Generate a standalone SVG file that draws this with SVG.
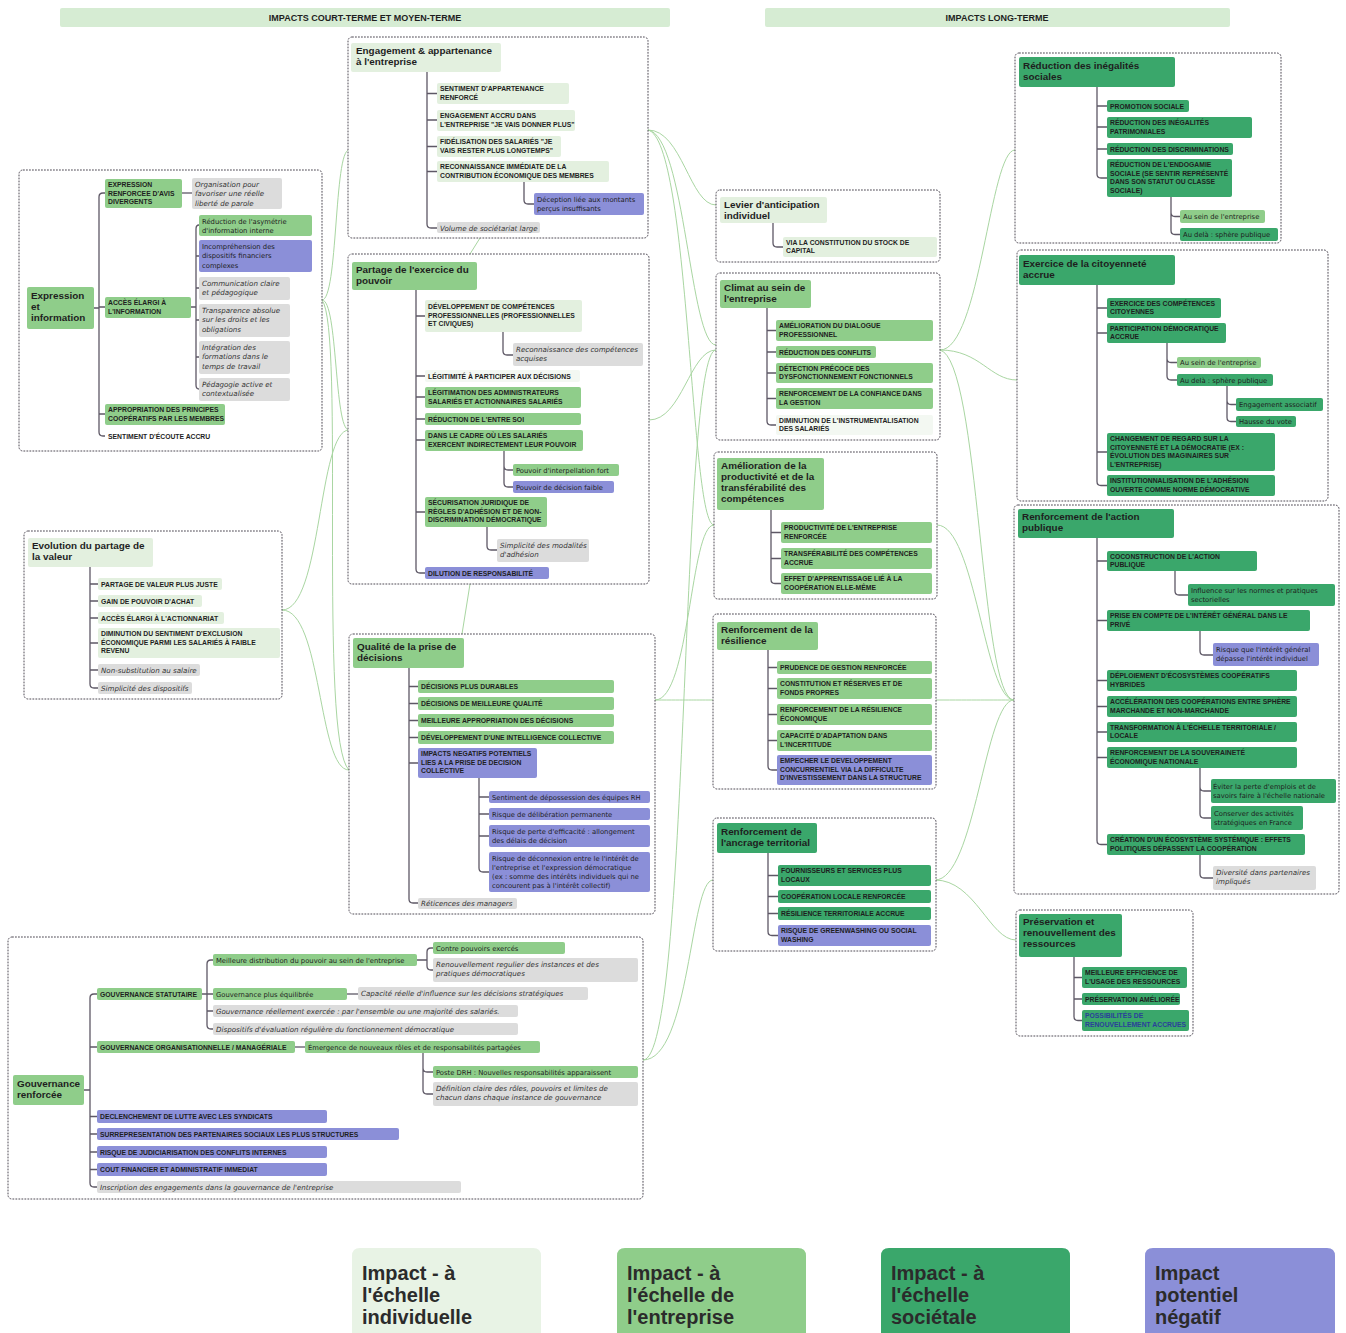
<svg xmlns="http://www.w3.org/2000/svg" width="1346" height="1333" viewBox="0 0 1346 1333">
<defs>
<style>
.bg{fill:#ffffff}
.box{fill:#ffffff;stroke:#4f4a55;stroke-width:1;stroke-dasharray:1.8 1.2}
.i{fill:#e3f0df}.e{fill:#8fcd8a}.s{fill:#3aa76b}.n{fill:#8b8fd8}.g{fill:#dcdcdc}.w{fill:#f3f8f2}
.br{fill:none;stroke:#5e5866;stroke-width:1.3}
.cn{fill:none;stroke:#a9d6a2;stroke-width:1}
text{fill:#1e1e1e}
.k{font:bold 6.8px "Liberation Sans",Arial,sans-serif}
.it{font:italic 7.1px "DejaVu Sans",Verdana,sans-serif;fill:#333}
.r{font:6.8px "DejaVu Sans",Verdana,sans-serif}
.h{font:bold 9.9px "Liberation Sans",Arial,sans-serif}
.hd{font:bold 9px "Liberation Sans",Arial,sans-serif}
.lg{font:bold 20px "Liberation Sans",Arial,sans-serif;fill:#2b2b2b}
</style>
</defs>
<rect class="bg" x="0" y="0" width="1346" height="1333"/>

<!-- headers -->
<g id="header-court">
<rect x="60" y="8" width="610" height="19" rx="2" fill="#d6ecd3"/>
<text class="hd" x="365" y="20.8" text-anchor="middle">IMPACTS COURT-TERME ET MOYEN-TERME</text>
</g>
<g id="header-long">
<rect x="765" y="8" width="465" height="19" rx="2" fill="#d6ecd3"/>
<text class="hd" x="997" y="20.8" text-anchor="middle">IMPACTS LONG-TERME</text>
</g>

<!-- connectors between groups -->
<g id="connectors">
<path class="cn" d="M322,300 C338,300 334,150 349,150"/>
<path class="cn" d="M322,300 C338,300 334,430 349,430"/>
<path class="cn" d="M282,610 C322,610 318,430 349,430"/>
<path class="cn" d="M282,610 C322,610 318,770 349,770"/>
<path class="cn" d="M322,300 C345,330 318,740 349,770"/>
<path class="cn" d="M480,238 L470,254"/>
<path class="cn" d="M470,584 L462,634"/>
<path class="cn" d="M648,130 C682,130 690,205 716,205"/>
<path class="cn" d="M648,130 C685,135 690,345 716,345"/>
<path class="cn" d="M648,130 C690,140 690,525 714,525"/>
<path class="cn" d="M649,420 C682,420 690,350 716,350"/>
<path class="cn" d="M655,700 C690,700 690,525 714,525"/>
<path class="cn" d="M655,700 C690,700 690,700 713,700"/>
<path class="cn" d="M643,1060 C690,1060 680,350 716,350"/>
<path class="cn" d="M643,1060 C690,1060 690,880 713,880"/>
<path class="cn" d="M940,350 C980,350 990,150 1015,150"/>
<path class="cn" d="M940,350 C980,350 990,380 1017,380"/>
<path class="cn" d="M940,350 C980,360 980,700 1014,700"/>
<path class="cn" d="M937,525 C975,525 985,700 1014,700"/>
<path class="cn" d="M936,700 C975,700 990,700 1014,700"/>
<path class="cn" d="M935,880 C975,880 985,700 1014,700"/>
<path class="cn" d="M935,880 C975,880 990,940 1016,940"/>
</g>

<!-- Group 1: Expression et information -->
<g id="expression-information">
<rect class="box" x="19" y="170" width="303" height="281" rx="4"/>
<rect class="e" x="27" y="287" width="67" height="42" rx="2"/>
<text class="h" x="31" y="299">Expression<tspan x="31" dy="11">et</tspan><tspan x="31" dy="11">information</tspan></text>
<path class="br" d="M94,308 H99 M105,193 H103 Q99,193 99,197 V432 Q99,436 103,436 H105 M99,307 H105 M99,414 H105"/>
<rect class="e" x="105" y="179" width="77" height="29" rx="2"/>
<text class="k" x="108" y="187">EXPRESSION<tspan x="108" dy="8.5">RENFORCEE D'AVIS</tspan><tspan x="108" dy="8.5">DIVERGENTS</tspan></text>
<path class="br" d="M182,193 H192"/>
<rect class="g" x="192" y="178" width="90" height="31" rx="2"/>
<text class="it" x="195" y="187">Organisation pour<tspan x="195" dy="9.3">favoriser une réelle</tspan><tspan x="195" dy="9.3">liberté de parole</tspan></text>
<rect class="e" x="105" y="297" width="86" height="21" rx="2"/>
<text class="k" x="108" y="305">ACCÈS ÉLARGI À<tspan x="108" dy="8.5">L'INFORMATION</tspan></text>
<path class="br" d="M191,307 H196 M199,225 Q196,225 196,229 V385 Q196,389 199,389 M196,256 H199 M196,288 H199 M196,320 H199 M196,357 H199"/>
<rect class="e" x="199" y="215" width="113" height="21" rx="2"/>
<text class="r" x="202" y="223.5">Réduction de l'asymétrie<tspan x="202" dy="9">d'information interne</tspan></text>
<rect class="n" x="199" y="240" width="113" height="32" rx="2"/>
<text class="r" x="202" y="249">Incompréhension des<tspan x="202" dy="9.3">dispositifs financiers</tspan><tspan x="202" dy="9.3">complexes</tspan></text>
<rect class="g" x="199" y="277" width="91" height="23" rx="2"/>
<text class="it" x="202" y="286">Communication claire<tspan x="202" dy="9.3">et pédagogique</tspan></text>
<rect class="g" x="199" y="304" width="91" height="33" rx="2"/>
<text class="it" x="202" y="313">Transparence absolue<tspan x="202" dy="9.3">sur les droits et les</tspan><tspan x="202" dy="9.3">obligations</tspan></text>
<rect class="g" x="199" y="341" width="91" height="33" rx="2"/>
<text class="it" x="202" y="350">Intégration des<tspan x="202" dy="9.3">formations dans le</tspan><tspan x="202" dy="9.3">temps de travail</tspan></text>
<rect class="g" x="199" y="378" width="91" height="23" rx="2"/>
<text class="it" x="202" y="387">Pédagogie active et<tspan x="202" dy="9.3">contextualisée</tspan></text>
<rect class="e" x="105" y="404" width="120" height="21" rx="2"/>
<text class="k" x="108" y="412">APPROPRIATION DES PRINCIPES<tspan x="108" dy="8.5">COOPÉRATIFS PAR LES MEMBRES</tspan></text>
<text class="k" x="108" y="439">SENTIMENT D'ÉCOUTE ACCRU</text>
</g>

<!-- Group 2: Engagement -->
<g id="engagement-appartenance">
<rect class="box" x="348" y="37" width="300" height="201" rx="4"/>
<rect class="i" x="351" y="43" width="150" height="29" rx="2"/>
<text class="h" x="356" y="54">Engagement &amp; appartenance<tspan x="356" dy="11">à l'entreprise</tspan></text>
<path class="br" d="M427,72 V224 Q427,228 431,228 H437 M427,93.5 H437 M427,120 H437 M427,146.5 H437 M427,171.5 H437"/>
<rect class="i" x="437" y="83" width="132" height="21" rx="2"/>
<text class="k" x="440" y="91">SENTIMENT D'APPARTENANCE<tspan x="440" dy="8.5">RENFORCÉ</tspan></text>
<rect class="i" x="437" y="110" width="138" height="21" rx="2"/>
<text class="k" x="440" y="118">ENGAGEMENT ACCRU DANS<tspan x="440" dy="8.5">L'ENTREPRISE "JE VAIS DONNER PLUS"</tspan></text>
<rect class="i" x="437" y="136" width="124" height="21" rx="2"/>
<text class="k" x="440" y="144">FIDÉLISATION DES SALARIÉS "JE<tspan x="440" dy="8.5">VAIS RESTER PLUS LONGTEMPS"</tspan></text>
<rect class="i" x="437" y="161" width="172" height="21" rx="2"/>
<text class="k" x="440" y="169">RECONNAISSANCE IMMÉDIATE DE LA<tspan x="440" dy="8.5">CONTRIBUTION ÉCONOMIQUE DES MEMBRES</tspan></text>
<path class="br" d="M524,182 V200 Q524,204 528,204 H534"/>
<rect class="n" x="534" y="193" width="110" height="22" rx="2"/>
<text class="r" x="537" y="202">Déception liée aux montants<tspan x="537" dy="9">perçus insuffisants</tspan></text>
<rect class="g" x="437" y="222" width="103" height="11" rx="2"/>
<text class="it" x="440" y="230.5">Volume de sociétariat large</text>
</g>

<!-- Group 3: Partage -->
<g id="partage-pouvoir">
<rect class="box" x="348" y="254" width="301" height="330" rx="4"/>
<rect class="e" x="352" y="262" width="125" height="28" rx="2"/>
<text class="h" x="356" y="273">Partage de l'exercice du<tspan x="356" dy="11">pouvoir</tspan></text>
<path class="br" d="M416,290 V569 Q416,573 420,573 H425 M416,316 H425 M416,376 H425 M416,397 H425 M416,419 H425 M416,440 H425 M416,512 H425"/>
<rect class="i" x="425" y="300" width="157" height="32" rx="2"/>
<text class="k" x="428" y="309">DÉVELOPPEMENT DE COMPÉTENCES<tspan x="428" dy="8.5">PROFESSIONNELLES (PROFESSIONNELLES</tspan><tspan x="428" dy="8.5">ET CIVIQUES)</tspan></text>
<path class="br" d="M503,332 V351 Q503,355 507,355 H513"/>
<rect class="g" x="513" y="343" width="130" height="23" rx="2"/>
<text class="it" x="516" y="352">Reconnaissance des compétences<tspan x="516" dy="9.3">acquises</tspan></text>
<rect class="w" x="425" y="370" width="155" height="12" rx="2"/>
<text class="k" x="428" y="378.6">LÉGITIMITÉ À PARTICIPER AUX DÉCISIONS</text>
<rect class="e" x="425" y="387" width="156" height="21" rx="2"/>
<text class="k" x="428" y="395">LÉGITIMATION DES ADMINISTRATEURS<tspan x="428" dy="8.5">SALARIÉS ET ACTIONNAIRES SALARIÉS</tspan></text>
<rect class="e" x="425" y="413" width="156" height="12" rx="2"/>
<text class="k" x="428" y="421.6">RÉDUCTION DE L'ENTRE SOI</text>
<rect class="e" x="425" y="430" width="158" height="21" rx="2"/>
<text class="k" x="428" y="438">DANS LE CADRE OÙ LES SALARIÉS<tspan x="428" dy="8.5">EXERCENT INDIRECTEMENT LEUR POUVOIR</tspan></text>
<path class="br" d="M504,451 V466 Q504,470 508,470 H513 M504,466 V483 Q504,487 508,487 H513"/>
<rect class="e" x="513" y="464" width="106" height="12" rx="2"/>
<text class="r" x="516" y="472.7">Pouvoir d'interpellation fort</text>
<rect class="n" x="513" y="481" width="101" height="12" rx="2"/>
<text class="r" x="516" y="489.7">Pouvoir de décision faible</text>
<rect class="e" x="425" y="497" width="122" height="30" rx="2"/>
<text class="k" x="428" y="505">SÉCURISATION JURIDIQUE DE<tspan x="428" dy="8.5">RÈGLES D'ADHÉSION ET DE NON-</tspan><tspan x="428" dy="8.5">DISCRIMINATION DÉMOCRATIQUE</tspan></text>
<path class="br" d="M487,527 V546 Q487,550 491,550 H497"/>
<rect class="g" x="497" y="539" width="92" height="23" rx="2"/>
<text class="it" x="500" y="548">Simplicité des modalités<tspan x="500" dy="9.3">d'adhésion</tspan></text>
<rect class="n" x="425" y="567" width="124" height="12" rx="2"/>
<text class="k" x="428" y="575.6">DILUTION DE RESPONSABILITÉ</text>
</g>

<!-- Group 4: Qualité -->
<g id="qualite-decisions">
<rect class="box" x="349" y="634" width="306" height="280" rx="4"/>
<rect class="e" x="353" y="638" width="111" height="30" rx="2"/>
<text class="h" x="357" y="650">Qualité de la prise de<tspan x="357" dy="11">décisions</tspan></text>
<path class="br" d="M409,668 V899 Q409,903 413,903 H418 M409,686.5 H418 M409,703.5 H418 M409,720.5 H418 M409,737.5 H418 M409,763 H418"/>
<rect class="e" x="418" y="680" width="196" height="13" rx="2"/>
<text class="k" x="421" y="689">DÉCISIONS PLUS DURABLES</text>
<rect class="e" x="418" y="697" width="196" height="13" rx="2"/>
<text class="k" x="421" y="706">DÉCISIONS DE MEILLEURE QUALITÉ</text>
<rect class="e" x="418" y="714" width="196" height="13" rx="2"/>
<text class="k" x="421" y="723">MEILLEURE APPROPRIATION DES DÉCISIONS</text>
<rect class="e" x="418" y="731" width="196" height="13" rx="2"/>
<text class="k" x="421" y="740">DÉVELOPPEMENT D'UNE INTELLIGENCE COLLECTIVE</text>
<rect class="n" x="418" y="748" width="119" height="30" rx="2"/>
<text class="k" x="421" y="756">IMPACTS NEGATIFS POTENTIELS<tspan x="421" dy="8.5">LIES A LA PRISE DE DECISION</tspan><tspan x="421" dy="8.5">COLLECTIVE</tspan></text>
<path class="br" d="M479,778 V868 Q479,872 483,872 H489 M479,797 H489 M479,814 H489 M479,836 H489"/>
<rect class="n" x="489" y="791" width="161" height="12" rx="2"/>
<text class="r" x="492" y="799.7">Sentiment de dépossession des équipes RH</text>
<rect class="n" x="489" y="808" width="161" height="12" rx="2"/>
<text class="r" x="492" y="816.7">Risque de délibération permanente</text>
<rect class="n" x="489" y="825" width="161" height="22" rx="2"/>
<text class="r" x="492" y="833.5">Risque de perte d'efficacité : allongement<tspan x="492" dy="9">des délais de décision</tspan></text>
<rect class="n" x="489" y="852" width="161" height="40" rx="2"/>
<text class="r" x="492" y="860.5">Risque de déconnexion entre le l'intérêt de<tspan x="492" dy="9">l'entreprise et l'expression démocratique</tspan><tspan x="492" dy="9">(ex : somme des intérêts individuels qui ne</tspan><tspan x="492" dy="9">concourent pas à l'intérêt collectif)</tspan></text>
<rect class="g" x="418" y="898" width="99" height="11" rx="2"/>
<text class="it" x="421" y="906.3">Réticences des managers</text>
</g>

<!-- Group 5: Evolution du partage de la valeur -->
<g id="evolution-partage-valeur">
<rect class="box" x="24" y="531" width="258" height="168" rx="4"/>
<rect class="i" x="28" y="538" width="125" height="29" rx="2"/>
<text class="h" x="32" y="549">Evolution du partage de<tspan x="32" dy="11">la valeur</tspan></text>
<path class="br" d="M90,567 V684 Q90,688 94,688 H98 M90,584 H98 M90,601 H98 M90,618 H98 M90,643 H98 M90,670 H98"/>
<rect class="i" x="98" y="578" width="124" height="12" rx="2"/>
<text class="k" x="101" y="586.6">PARTAGE DE VALEUR PLUS JUSTE</text>
<rect class="i" x="98" y="595" width="104" height="12" rx="2"/>
<text class="k" x="101" y="603.6">GAIN DE POUVOIR D'ACHAT</text>
<rect class="i" x="98" y="612" width="126" height="12" rx="2"/>
<text class="k" x="101" y="620.6">ACCÈS ÉLARGI À L'ACTIONNARIAT</text>
<rect class="i" x="98" y="628" width="182" height="30" rx="2"/>
<text class="k" x="101" y="636">DIMINUTION DU SENTIMENT D'EXCLUSION<tspan x="101" dy="8.5">ÉCONOMIQUE PARMI LES SALARIÉS À FAIBLE</tspan><tspan x="101" dy="8.5">REVENU</tspan></text>
<rect class="g" x="98" y="664" width="102" height="12" rx="2"/>
<text class="it" x="101" y="672.6">Non-substitution au salaire</text>
<rect class="g" x="98" y="682" width="94" height="12" rx="2"/>
<text class="it" x="101" y="690.6">Simplicité des dispositifs</text>
</g>

<!-- Group 6: Gouvernance -->
<g id="gouvernance-renforcee">
<rect class="box" x="8" y="937" width="635" height="262" rx="4"/>
<rect class="e" x="13" y="1075" width="71" height="30" rx="2"/>
<text class="h" x="17" y="1087">Gouvernance<tspan x="17" dy="11">renforcée</tspan></text>
<path class="br" d="M84,1090 H90 M97,994 H94 Q90,994 90,998 V1183 Q90,1187 94,1187 H97 M90,1047 H97 M90,1116.5 H97 M90,1134 H97 M90,1152 H97 M90,1169.5 H97"/>
<rect class="e" x="97" y="988" width="105" height="12" rx="2"/>
<text class="k" x="100" y="996.6">GOUVERNANCE STATUTAIRE</text>
<path class="br" d="M202,994 H213 M213,960 H211 Q207,960 207,964 V1025 Q207,1029 211,1029 H213 M207,1011 H213"/>
<rect class="e" x="213" y="954" width="204" height="12" rx="2"/>
<text class="r" x="216" y="962.7">Meilleure distribution du pouvoir au sein de l'entreprise</text>
<path class="br" d="M417,960 H427 M433,948 H431 Q427,948 427,952 V966 Q427,970 431,970 H433"/>
<rect class="e" x="433" y="942" width="132" height="12" rx="2"/>
<text class="r" x="436" y="950.7">Contre pouvoirs exercés</text>
<rect class="g" x="433" y="958" width="205" height="24" rx="2"/>
<text class="it" x="436" y="967">Renouvellement regulier des instances et des<tspan x="436" dy="9.3">pratiques démocratiques</tspan></text>
<rect class="e" x="213" y="988" width="134" height="12" rx="2"/>
<text class="r" x="216" y="996.7">Gouvernance plus équilibrée</text>
<path class="br" d="M347,994 H358"/>
<rect class="g" x="358" y="987" width="230" height="13" rx="2"/>
<text class="it" x="361" y="996.2">Capacité réelle d'influence sur les décisions stratégiques</text>
<rect class="g" x="213" y="1005" width="305" height="12" rx="2"/>
<text class="it" x="216" y="1013.7">Gouvernance réellement exercée : par l'ensemble ou une majorité des salariés.</text>
<rect class="g" x="213" y="1023" width="305" height="12" rx="2"/>
<text class="it" x="216" y="1031.7">Dispositifs d'évaluation régulière du fonctionnement démocratique</text>
<rect class="e" x="97" y="1041" width="198" height="12" rx="2"/>
<text class="k" x="100" y="1049.6">GOUVERNANCE ORGANISATIONNELLE / MANAGÉRIALE</text>
<path class="br" d="M295,1047 H305"/>
<rect class="e" x="305" y="1041" width="235" height="12" rx="2"/>
<text class="r" x="308" y="1049.7">Émergence de nouveaux rôles et de responsabilités partagées</text>
<path class="br" d="M423,1053 V1068 Q423,1072 427,1072 H433 M423,1068 V1090 Q423,1094 427,1094 H433"/>
<rect class="e" x="433" y="1066" width="205" height="12" rx="2"/>
<text class="r" x="436" y="1074.7">Poste DRH : Nouvelles responsabilités apparaissent</text>
<rect class="g" x="433" y="1082" width="205" height="24" rx="2"/>
<text class="it" x="436" y="1091">Définition claire des rôles, pouvoirs et limites de<tspan x="436" dy="9.3">chacun dans chaque instance de gouvernance</tspan></text>
<rect class="n" x="97" y="1110" width="230" height="13" rx="2"/>
<text class="k" x="100" y="1119">DECLENCHEMENT DE LUTTE AVEC LES SYNDICATS</text>
<rect class="n" x="97" y="1128" width="302" height="12" rx="2"/>
<text class="k" x="100" y="1136.6">SURREPRESENTATION DES PARTENAIRES SOCIAUX LES PLUS STRUCTURES</text>
<rect class="n" x="97" y="1146" width="230" height="12" rx="2"/>
<text class="k" x="100" y="1154.6">RISQUE DE JUDICIARISATION DES CONFLITS INTERNES</text>
<rect class="n" x="97" y="1163" width="230" height="13" rx="2"/>
<text class="k" x="100" y="1172">COUT FINANCIER ET ADMINISTRATIF IMMEDIAT</text>
<rect class="g" x="97" y="1181" width="364" height="12" rx="2"/>
<text class="it" x="100" y="1189.6">Inscription des engagements dans la gouvernance de l'entreprise</text>
</g>

<!-- Group 7: Levier -->
<g id="levier-anticipation">
<rect class="box" x="716" y="190" width="224" height="72" rx="4"/>
<rect class="i" x="720" y="197" width="107" height="26" rx="2"/>
<text class="h" x="724" y="207.5">Levier d'anticipation<tspan x="724" dy="11">individuel</tspan></text>
<path class="br" d="M773,223 V243 Q773,247 777,247 H783"/>
<rect class="i" x="783" y="237" width="154" height="20" rx="2"/>
<text class="k" x="786" y="244.5">VIA LA CONSTITUTION DU STOCK DE<tspan x="786" dy="8.5">CAPITAL</tspan></text>
</g>

<!-- Group 8: Climat -->
<g id="climat-entreprise">
<rect class="box" x="716" y="273" width="224" height="167" rx="4"/>
<rect class="e" x="720" y="280" width="91" height="28" rx="2"/>
<text class="h" x="724" y="291">Climat au sein de<tspan x="724" dy="11">l'entreprise</tspan></text>
<path class="br" d="M767,308 V421 Q767,425 771,425 H776 M767,330.5 H776 M767,352 H776 M767,373 H776 M767,398.5 H776"/>
<rect class="e" x="776" y="320" width="157" height="21" rx="2"/>
<text class="k" x="779" y="328">AMÉLIORATION DU DIALOGUE<tspan x="779" dy="8.5">PROFESSIONNEL</tspan></text>
<rect class="e" x="776" y="346" width="100" height="12" rx="2"/>
<text class="k" x="779" y="354.6">RÉDUCTION DES CONFLITS</text>
<rect class="e" x="776" y="363" width="157" height="20" rx="2"/>
<text class="k" x="779" y="370.5">DÉTECTION PRÉCOCE DES<tspan x="779" dy="8.5">DYSFONCTIONNEMENT FONCTIONNELS</tspan></text>
<rect class="e" x="776" y="388" width="157" height="21" rx="2"/>
<text class="k" x="779" y="396">RENFORCEMENT DE LA CONFIANCE DANS<tspan x="779" dy="8.5">LA GESTION</tspan></text>
<rect class="w" x="776" y="415" width="157" height="20" rx="2"/>
<text class="k" x="779" y="422.5">DIMINUTION DE L'INSTRUMENTALISATION<tspan x="779" dy="8.5">DES SALARIÉS</tspan></text>
</g>

<!-- Group 9: Amélioration productivité -->
<g id="amelioration-productivite">
<rect class="box" x="714" y="452" width="223" height="147" rx="4"/>
<rect class="e" x="717" y="458" width="107" height="52" rx="2"/>
<text class="h" x="721" y="469">Amélioration de la<tspan x="721" dy="11">productivité et de la</tspan><tspan x="721" dy="11">transférabilité des</tspan><tspan x="721" dy="11">compétences</tspan></text>
<path class="br" d="M771,510 V579.5 Q771,583.5 775,583.5 H781 M771,532.5 H781 M771,558.5 H781"/>
<rect class="e" x="781" y="522" width="151" height="21" rx="2"/>
<text class="k" x="784" y="530">PRODUCTIVITÉ DE L'ENTREPRISE<tspan x="784" dy="8.5">RENFORCÉE</tspan></text>
<rect class="e" x="781" y="548" width="151" height="21" rx="2"/>
<text class="k" x="784" y="556">TRANSFÉRABILITÉ DES COMPÉTENCES<tspan x="784" dy="8.5">ACCRUE</tspan></text>
<rect class="e" x="781" y="573" width="151" height="21" rx="2"/>
<text class="k" x="784" y="581">EFFET D'APPRENTISSAGE LIÉ À LA<tspan x="784" dy="8.5">COOPÉRATION ELLE-MÊME</tspan></text>
</g>

<!-- Group 10: Résilience -->
<g id="renforcement-resilience">
<rect class="box" x="713" y="614" width="223" height="175" rx="4"/>
<rect class="e" x="717" y="622" width="101" height="28" rx="2"/>
<text class="h" x="721" y="633">Renforcement de la<tspan x="721" dy="11">résilience</tspan></text>
<path class="br" d="M768,650 V766 Q768,770 772,770 H777 M768,667.5 H777 M768,688.5 H777 M768,714.5 H777 M768,740.5 H777"/>
<rect class="e" x="777" y="661" width="155" height="13" rx="2"/>
<text class="k" x="780" y="670">PRUDENCE DE GESTION RENFORCÉE</text>
<rect class="e" x="777" y="678" width="155" height="21" rx="2"/>
<text class="k" x="780" y="686">CONSTITUTION ET RÉSERVES ET DE<tspan x="780" dy="8.5">FONDS PROPRES</tspan></text>
<rect class="e" x="777" y="704" width="155" height="21" rx="2"/>
<text class="k" x="780" y="712">RENFORCEMENT DE LA RÉSILIENCE<tspan x="780" dy="8.5">ÉCONOMIQUE</tspan></text>
<rect class="e" x="777" y="730" width="155" height="21" rx="2"/>
<text class="k" x="780" y="738">CAPACITÉ D'ADAPTATION DANS<tspan x="780" dy="8.5">L'INCERTITUDE</tspan></text>
<rect class="n" x="777" y="755" width="155" height="30" rx="2"/>
<text class="k" x="780" y="763">EMPECHER LE DEVELOPPEMENT<tspan x="780" dy="8.5">CONCURRENTIEL VIA LA DIFFICULTE</tspan><tspan x="780" dy="8.5">D'INVESTISSEMENT DANS LA STRUCTURE</tspan></text>
</g>

<!-- Group 11: Ancrage territorial -->
<g id="ancrage-territorial">
<rect class="box" x="713" y="818" width="223" height="133" rx="4"/>
<rect class="s" x="717" y="823" width="100" height="30" rx="2"/>
<text class="h" x="721" y="835">Renforcement de<tspan x="721" dy="11">l'ancrage territorial</tspan></text>
<path class="br" d="M768,853 V931.5 Q768,935.5 772,935.5 H778 M768,875.5 H778 M768,896.5 H778 M768,913.5 H778"/>
<rect class="s" x="778" y="865" width="153" height="21" rx="2"/>
<text class="k" x="781" y="873">FOURNISSEURS ET SERVICES PLUS<tspan x="781" dy="8.5">LOCAUX</tspan></text>
<rect class="s" x="778" y="890" width="153" height="13" rx="2"/>
<text class="k" x="781" y="899">COOPÉRATION LOCALE RENFORCÉE</text>
<rect class="s" x="778" y="907" width="153" height="13" rx="2"/>
<text class="k" x="781" y="916">RÉSILIENCE TERRITORIALE ACCRUE</text>
<rect class="n" x="778" y="925" width="153" height="21" rx="2"/>
<text class="k" x="781" y="933">RISQUE DE GREENWASHING OU SOCIAL<tspan x="781" dy="8.5">WASHING</tspan></text>
</g>

<!-- Group 12: Réduction des inégalités -->
<g id="reduction-inegalites">
<rect class="box" x="1015" y="53" width="266" height="190" rx="4"/>
<rect class="s" x="1019" y="57" width="156" height="30" rx="2"/>
<text class="h" x="1023" y="69">Réduction des inégalités<tspan x="1023" dy="11">sociales</tspan></text>
<path class="br" d="M1097,87 V174 Q1097,178 1101,178 H1107 M1097,106 H1107 M1097,127 H1107 M1097,149 H1107"/>
<rect class="s" x="1107" y="100" width="82" height="12" rx="2"/>
<text class="k" x="1110" y="108.6">PROMOTION SOCIALE</text>
<rect class="s" x="1107" y="117" width="145" height="21" rx="2"/>
<text class="k" x="1110" y="125">RÉDUCTION DES INÉGALITÉS<tspan x="1110" dy="8.5">PATRIMONIALES</tspan></text>
<rect class="s" x="1107" y="143" width="126" height="12" rx="2"/>
<text class="k" x="1110" y="151.6">RÉDUCTION DES DISCRIMINATIONS</text>
<rect class="s" x="1107" y="159" width="125" height="38" rx="2"/>
<text class="k" x="1110" y="167">RÉDUCTION DE L'ENDOGAMIE<tspan x="1110" dy="8.5">SOCIALE (SE SENTIR REPRÉSENTÉ</tspan><tspan x="1110" dy="8.5">DANS SON STATUT OU CLASSE</tspan><tspan x="1110" dy="8.5">SOCIALE)</tspan></text>
<path class="br" d="M1171,197 V212.5 Q1171,216.5 1175,216.5 H1180 M1171,212.5 V230.5 Q1171,234.5 1175,234.5 H1180"/>
<rect class="e" x="1180" y="210" width="85" height="13" rx="2"/>
<text class="r" x="1183" y="219">Au sein de l'entreprise</text>
<rect class="s" x="1180" y="228" width="98" height="13" rx="2"/>
<text class="r" x="1183" y="237">Au delà : sphère publique</text>
</g>

<!-- Group 13: Citoyenneté -->
<g id="exercice-citoyennete">
<rect class="box" x="1017" y="250" width="311" height="251" rx="4"/>
<rect class="s" x="1019" y="255" width="156" height="30" rx="2"/>
<text class="h" x="1023" y="267">Exercice de la citoyenneté<tspan x="1023" dy="11">accrue</tspan></text>
<path class="br" d="M1097,285 V481.5 Q1097,485.5 1101,485.5 H1107 M1097,308 H1107 M1097,333 H1107 M1097,452 H1107"/>
<rect class="s" x="1107" y="298" width="114" height="20" rx="2"/>
<text class="k" x="1110" y="305.5">EXERCICE DES COMPÉTENCES<tspan x="1110" dy="8.5">CITOYENNES</tspan></text>
<rect class="s" x="1107" y="323" width="119" height="20" rx="2"/>
<text class="k" x="1110" y="330.5">PARTICIPATION DÉMOCRATIQUE<tspan x="1110" dy="8.5">ACCRUE</tspan></text>
<path class="br" d="M1167,343 V358.5 Q1167,362.5 1171,362.5 H1177 M1167,358.5 V376 Q1167,380 1171,380 H1177"/>
<rect class="e" x="1177" y="357" width="84" height="11" rx="2"/>
<text class="r" x="1180" y="365.3">Au sein de l'entreprise</text>
<rect class="s" x="1177" y="374" width="96" height="12" rx="2"/>
<text class="r" x="1180" y="382.7">Au delà : sphère publique</text>
<path class="br" d="M1227,386 V400.5 Q1227,404.5 1231,404.5 H1236 M1227,400.5 V417.5 Q1227,421.5 1231,421.5 H1236"/>
<rect class="s" x="1236" y="398" width="87" height="13" rx="2"/>
<text class="r" x="1239" y="407">Engagement associatif</text>
<rect class="s" x="1236" y="416" width="60" height="11" rx="2"/>
<text class="r" x="1239" y="424.3">Hausse du vote</text>
<rect class="s" x="1107" y="433" width="168" height="38" rx="2"/>
<text class="k" x="1110" y="441">CHANGEMENT DE REGARD SUR LA<tspan x="1110" dy="8.5">CITOYENNETÉ ET LA DÉMOCRATIE (EX :</tspan><tspan x="1110" dy="8.5">ÉVOLUTION DES IMAGINAIRES SUR</tspan><tspan x="1110" dy="8.5">L'ENTREPRISE)</tspan></text>
<rect class="s" x="1107" y="475" width="168" height="21" rx="2"/>
<text class="k" x="1110" y="483">INSTITUTIONNALISATION DE L'ADHÉSION<tspan x="1110" dy="8.5">OUVERTE COMME NORME DÉMOCRATIVE</tspan></text>
</g>

<!-- Group 14: Action publique -->
<g id="action-publique">
<rect class="box" x="1014" y="505" width="325" height="389" rx="4"/>
<rect class="s" x="1018" y="509" width="156" height="29" rx="2"/>
<text class="h" x="1022" y="520">Renforcement de l'action<tspan x="1022" dy="11">publique</tspan></text>
<path class="br" d="M1097,538 V840.5 Q1097,844.5 1101,844.5 H1107 M1097,561 H1107 M1097,620.5 H1107 M1097,680.5 H1107 M1097,706.5 H1107 M1097,732 H1107 M1097,757.5 H1107"/>
<rect class="s" x="1107" y="551" width="150" height="20" rx="2"/>
<text class="k" x="1110" y="558.5">COCONSTRUCTION DE L'ACTION<tspan x="1110" dy="8.5">PUBLIQUE</tspan></text>
<path class="br" d="M1175,571 V591 Q1175,595 1179,595 H1188"/>
<rect class="s" x="1188" y="584" width="147" height="22" rx="2"/>
<text class="r" x="1191" y="592.5">Influence sur les normes et pratiques<tspan x="1191" dy="9">sectorielles</tspan></text>
<rect class="s" x="1107" y="610" width="203" height="21" rx="2"/>
<text class="k" x="1110" y="618">PRISE EN COMPTE DE L'INTÉRÊT GÉNÉRAL DANS LE<tspan x="1110" dy="8.5">PRIVÉ</tspan></text>
<path class="br" d="M1200,631 V651 Q1200,655 1204,655 H1213"/>
<rect class="n" x="1213" y="643" width="106" height="23" rx="2"/>
<text class="r" x="1216" y="652">Risque que l'intérêt général<tspan x="1216" dy="9">dépasse l'intérêt individuel</tspan></text>
<rect class="s" x="1107" y="670" width="190" height="21" rx="2"/>
<text class="k" x="1110" y="678">DÉPLOIEMENT D'ÉCOSYSTÈMES COOPÉRATIFS<tspan x="1110" dy="8.5">HYBRIDES</tspan></text>
<rect class="s" x="1107" y="696" width="190" height="21" rx="2"/>
<text class="k" x="1110" y="704">ACCÉLÉRATION DES COOPÉRATIONS ENTRE SPHÈRE<tspan x="1110" dy="8.5">MARCHANDE ET NON-MARCHANDE</tspan></text>
<rect class="s" x="1107" y="722" width="190" height="20" rx="2"/>
<text class="k" x="1110" y="729.5">TRANSFORMATION À L'ÉCHELLE TERRITORIALE /<tspan x="1110" dy="8.5">LOCALE</tspan></text>
<rect class="s" x="1107" y="747" width="190" height="21" rx="2"/>
<text class="k" x="1110" y="755">RENFORCEMENT DE LA SOUVERAINETÉ<tspan x="1110" dy="8.5">ÉCONOMIQUE NATIONALE</tspan></text>
<path class="br" d="M1200,768 V787 Q1200,791 1204,791 H1211 M1200,787 V814 Q1200,818 1204,818 H1211"/>
<rect class="s" x="1211" y="779" width="125" height="24" rx="2"/>
<text class="r" x="1213" y="788.5">Éviter la perte d'emplois et de<tspan x="1213" dy="9">savoirs faire à l'échelle nationale</tspan></text>
<rect class="s" x="1211" y="806" width="92" height="24" rx="2"/>
<text class="r" x="1214" y="815.5">Conserver des activités<tspan x="1214" dy="9">stratégiques en France</tspan></text>
<rect class="s" x="1107" y="834" width="198" height="21" rx="2"/>
<text class="k" x="1110" y="842">CRÉATION D'UN ÉCOSYSTÈME SYSTÉMIQUE : EFFETS<tspan x="1110" dy="8.5">POLITIQUES DÉPASSENT LA COOPÉRATION</tspan></text>
<path class="br" d="M1200,855 V874 Q1200,878 1204,878 H1213"/>
<rect class="g" x="1213" y="866" width="103" height="24" rx="2"/>
<text class="it" x="1216" y="875">Diversité dans partenaires<tspan x="1216" dy="9.3">impliqués</tspan></text>
</g>

<!-- Group 15: Préservation -->
<g id="preservation-ressources">
<rect class="box" x="1016" y="910" width="177" height="126" rx="4"/>
<rect class="s" x="1019" y="914" width="103" height="43" rx="2"/>
<text class="h" x="1023" y="925">Préservation et<tspan x="1023" dy="11">renouvellement des</tspan><tspan x="1023" dy="11">ressources</tspan></text>
<path class="br" d="M1074,957 V1016.5 Q1074,1020.5 1078,1020.5 H1082 M1074,977.5 H1082 M1074,999 H1082"/>
<rect class="s" x="1082" y="967" width="105" height="21" rx="2"/>
<text class="k" x="1085" y="975">MEILLEURE EFFICIENCE DE<tspan x="1085" dy="8.5">L'USAGE DES RESSOURCES</tspan></text>
<rect class="s" x="1082" y="993" width="98" height="12" rx="2"/>
<text class="k" x="1085" y="1001.6">PRÉSERVATION AMÉLIORÉE</text>
<rect class="s" x="1082" y="1010" width="107" height="21" rx="2"/>
<text class="k" x="1085" y="1018" style="fill:#2a3f9a">POSSIBILITÉS DE<tspan x="1085" dy="8.5">RENOUVELLEMENT ACCRUES</tspan></text>
</g>

<!-- Legend -->
<g id="legend-individuel">
<path d="M352,1333 V1256 Q352,1248 360,1248 H533 Q541,1248 541,1256 V1333 Z" fill="#e8f3e5"/>
<text class="lg" x="362" y="1280">Impact - à<tspan x="362" dy="22">l'échelle</tspan><tspan x="362" dy="22">individuelle</tspan></text>
</g>
<g id="legend-entreprise">
<path d="M617,1333 V1256 Q617,1248 625,1248 H798 Q806,1248 806,1256 V1333 Z" fill="#8fcd8a"/>
<text class="lg" x="627" y="1280">Impact - à<tspan x="627" dy="22">l'échelle de</tspan><tspan x="627" dy="22">l'entreprise</tspan></text>
</g>
<g id="legend-societale">
<path d="M881,1333 V1256 Q881,1248 889,1248 H1062 Q1070,1248 1070,1256 V1333 Z" fill="#3aa76b"/>
<text class="lg" x="891" y="1280">Impact - à<tspan x="891" dy="22">l'échelle</tspan><tspan x="891" dy="22">sociétale</tspan></text>
</g>
<g id="legend-negatif">
<path d="M1145,1333 V1256 Q1145,1248 1153,1248 H1327 Q1335,1248 1335,1256 V1333 Z" fill="#8b8fd8"/>
<text class="lg" x="1155" y="1280">Impact<tspan x="1155" dy="22">potentiel</tspan><tspan x="1155" dy="22">négatif</tspan></text>
</g>
</svg>
